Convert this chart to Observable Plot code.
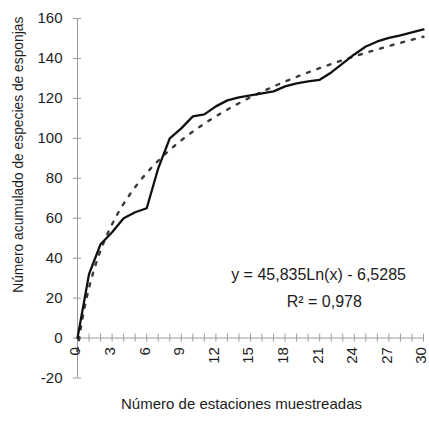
<!DOCTYPE html>
<html>
<head>
<meta charset="utf-8">
<script src="https://cdn.jsdelivr.net/npm/d3@7"></script>
<script src="https://cdn.jsdelivr.net/npm/@observablehq/plot@0.6"></script>
<style>
  html, body { margin: 0; padding: 0; background: #fff; }
</style>
</head>
<body>
<div id="chart"></div>
<script>
// Data
const stations = [0,1,2,3,4,5,6,7,8,9,10,11,12,13,14,15,16,17,18,19,20,21,22,23,24,25,26,27,28,29,30];
const species  = [0,32,47,53,60,63,65,85,100,105,111,112,116,119,120.5,121.5,122.5,123.5,126,127.5,128.5,129.3,133,137.5,142,146,148.5,150.3,151.5,153,154.5];

// Logarithmic trendline as printed on the chart: y = 45,835 Ln(x) - 6,5285 (x = point index, 1-based)
const trendA = 45.835;
const trendB = -6.5285;

const xTickLabels = [0,3,6,9,12,15,18,21,24,27,30];
const yTickLabels = [-20,0,20,40,60,80,100,120,140,160];

const eqLines = ["y = 45,835Ln(x) - 6,5285", "R\u00B2 = 0,978"];
const eqX = [20.9, 21.4];
const eqY = [31.4, 18.1];

const xTitle = "Número de estaciones muestreadas";
const yTitle = "Número acumulado de especies de esponjas";

const trendX = d3.range(0, 30.001, 0.2);
const trend = trendX.map(x => ({x, y: trendA * Math.log(x + 1) + trendB}));
const table = stations.map((s, i) => ({x: s, y: species[i]}));
const eq = eqLines.map((t, i) => ({t, x: eqX[i], y: eqY[i]}));

const axisColor = "#9a9a9a";
const ink = "#1c1c1c";

const chart = Plot.plot({
  width: 429,
  height: 421,
  marginLeft: 77,
  marginRight: 6,
  marginTop: 18,
  marginBottom: 43.5,
  style: {fontFamily: "'Liberation Sans', Arial, Helvetica, sans-serif", fontSize: "15px", color: ink, background: "#fff"},
  x: {domain: [0, 30], axis: null},
  y: {domain: [-20, 160], axis: null},
  marks: [
    // y axis line and ticks
    Plot.ruleX([0], {y1: -20, y2: 160, stroke: axisColor, strokeWidth: 1}),
    Plot.ruleY(yTickLabels, {x1: -0.35, x2: 0.35, stroke: axisColor}),
    Plot.axisY(yTickLabels, {anchor: "left", tickSize: 0, tickPadding: 15, label: null, fontSize: 15, tickFormat: d => d < 0 ? "-" + Math.abs(d) : String(d)}),
    // x axis line and ticks at y = 0
    Plot.ruleY([0], {x1: 0, x2: 30, stroke: axisColor, strokeWidth: 1}),
    Plot.ruleX(stations, {y1: -2, y2: 2, stroke: axisColor}),
    Plot.text(xTickLabels, {x: d => d, y: 0, text: d => String(d), rotate: -90, textAnchor: "end", dy: 9, dx: -2, fontSize: 15, fill: ink}),
    // trendline
    Plot.line(trend, {x: "x", y: "y", stroke: "#3a3a3a", strokeWidth: 2.4, strokeDasharray: "3,8", curve: "linear"}),
    // data line
    Plot.line(table, {x: "x", y: "y", stroke: "#111", strokeWidth: 2.3, strokeLinejoin: "round"}),
    // equation
    Plot.text(eq, {x: "x", y: "y", text: "t", fontSize: 16, fill: ink, textAnchor: "middle"}),
    // titles
    Plot.text([xTitle], {frameAnchor: "bottom", dy: 30.5, dx: -9, fontSize: 15, fill: ink, textAnchor: "middle"}),
    Plot.text([yTitle], {frameAnchor: "left", rotate: -90, dx: -59, dy: -43.5, fontSize: 13.8, fill: ink, textAnchor: "middle"})
  ]
});

document.getElementById("chart").appendChild(chart);
</script>
</body>
</html>
